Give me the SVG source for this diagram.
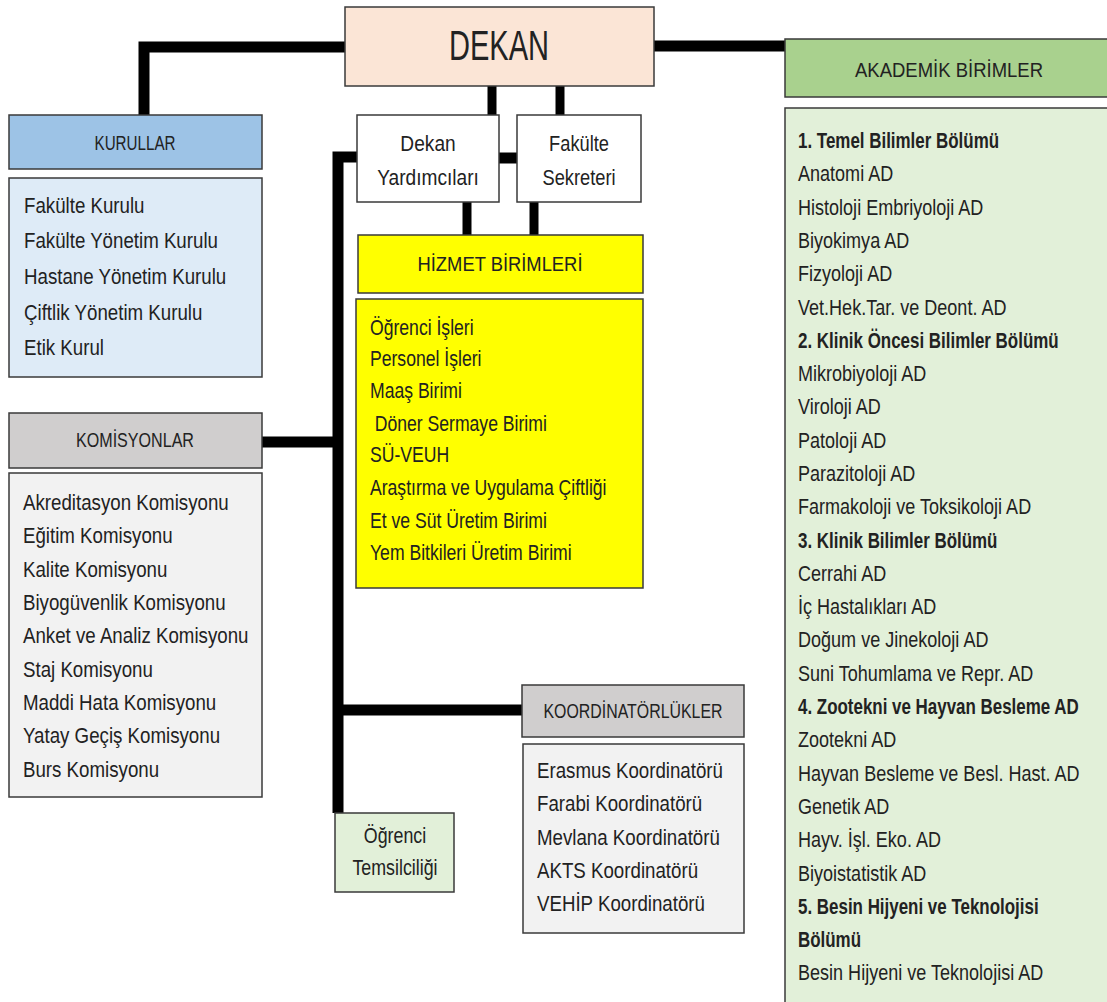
<svg xmlns="http://www.w3.org/2000/svg" width="1107" height="1002" viewBox="0 0 1107 1002">
<style>
.box{stroke:#3a3a3a;stroke-width:1.5}
.conn{stroke:#000;fill:none;stroke-width:11;stroke-linejoin:miter;stroke-linecap:butt}
.thin{stroke-width:9}
text{font-family:"Liberation Sans",Arial,sans-serif;fill:#222}
.hd{font-size:21px;text-anchor:middle}
.li{font-size:22px}
.bd{font-size:22px;font-weight:bold}
.ct{font-size:22px;text-anchor:middle}
</style>
<rect width="1107" height="1002" fill="#fff"/>

<g id="connectors">
  <path class="conn" d="M345,47 H144 V115"/>
  <path class="conn" d="M654,46 H785"/>
  <path class="conn thin" d="M492,86 V115"/>
  <path class="conn thin" d="M560,86 V115"/>
  <path class="conn" d="M499,158 H517"/>
  <path class="conn" d="M357,157 H338 V813"/>
  <path class="conn" d="M262,442 H338"/>
  <path class="conn" d="M338,710 H522"/>
  <path class="conn thin" d="M467,202 V235"/>
  <path class="conn thin" d="M534,202 V235"/>
</g>

<g id="dekan">
  <rect class="box" x="345" y="7" width="309" height="79" fill="#FBE5D6"/>
  <text x="499" y="60" font-size="42" text-anchor="middle" textLength="100" lengthAdjust="spacingAndGlyphs">DEKAN</text>
</g>

<g id="kurullar">
  <rect class="box" x="9" y="115" width="253" height="54" fill="#9DC3E6"/>
  <text class="hd" x="135" y="150" textLength="81" lengthAdjust="spacingAndGlyphs">KURULLAR</text>
  <rect class="box" x="9" y="178" width="253" height="199" fill="#DEEBF7"/>
  <g transform="translate(24,0) scale(0.85,1)">
    <text class="li" x="0" y="213">Fakülte Kurulu</text>
    <text class="li" x="0" y="248">Fakülte Yönetim Kurulu</text>
    <text class="li" x="0" y="284">Hastane Yönetim Kurulu</text>
    <text class="li" x="0" y="320">Çiftlik Yönetim Kurulu</text>
    <text class="li" x="0" y="355">Etik Kurul</text>
  </g>
</g>

<g id="komisyonlar">
  <rect class="box" x="9" y="413" width="253" height="55" fill="#D0CECE"/>
  <text class="hd" x="135" y="447" textLength="118" lengthAdjust="spacingAndGlyphs">KOMİSYONLAR</text>
  <rect class="box" x="9" y="473" width="253" height="324" fill="#F2F2F2"/>
  <g transform="translate(23,0) scale(0.85,1)">
    <text class="li" x="0" y="510">Akreditasyon Komisyonu</text>
    <text class="li" x="0" y="543">Eğitim Komisyonu</text>
    <text class="li" x="0" y="577">Kalite Komisyonu</text>
    <text class="li" x="0" y="610">Biyogüvenlik Komisyonu</text>
    <text class="li" x="0" y="643">Anket  ve Analiz Komisyonu</text>
    <text class="li" x="0" y="677">Staj Komisyonu</text>
    <text class="li" x="0" y="710">Maddi Hata Komisyonu</text>
    <text class="li" x="0" y="743">Yatay Geçiş Komisyonu</text>
    <text class="li" x="0" y="777">Burs Komisyonu</text>
  </g>
</g>

<g id="dekan-yardimcilari">
  <rect class="box" x="357" y="115" width="142" height="87" fill="#fff"/>
  <g transform="translate(428,0) scale(0.87,1)">
    <text class="ct" x="0" y="151">Dekan</text>
    <text class="ct" x="0" y="185">Yardımcıları</text>
  </g>
</g>

<g id="fakulte-sekreteri">
  <rect class="box" x="517" y="115" width="124" height="87" fill="#fff"/>
  <g transform="translate(579,0) scale(0.83,1)">
    <text class="ct" x="0" y="151">Fakülte</text>
    <text class="ct" x="0" y="185">Sekreteri</text>
  </g>
</g>

<g id="hizmet-birimleri">
  <rect class="box" x="358" y="235" width="285" height="58" fill="#FFFF00"/>
  <text class="hd" x="500" y="271" textLength="165" lengthAdjust="spacingAndGlyphs">HİZMET BİRİMLERİ</text>
  <rect class="box" x="356" y="299" width="287" height="289" fill="#FFFF00"/>
  <g transform="translate(370,0) scale(0.8,1)">
    <text class="li" x="0" y="335">Öğrenci İşleri</text>
    <text class="li" x="0" y="366">Personel İşleri</text>
    <text class="li" x="0" y="398">Maaş Birimi</text>
    <text class="li" x="6" y="431">Döner Sermaye Birimi</text>
    <text class="li" x="0" y="462">SÜ-VEUH</text>
    <text class="li" x="0" y="495">Araştırma ve Uygulama Çiftliği</text>
    <text class="li" x="0" y="528">Et ve Süt Üretim Birimi</text>
    <text class="li" x="0" y="560">Yem Bitkileri Üretim Birimi</text>
  </g>
</g>

<g id="koordinatorlukler">
  <rect class="box" x="522" y="685" width="222" height="52" fill="#D0CECE"/>
  <text class="hd" x="633" y="718" textLength="179" lengthAdjust="spacingAndGlyphs">KOORDİNATÖRLÜKLER</text>
  <rect class="box" x="523" y="744" width="221" height="189" fill="#F2F2F2"/>
  <g transform="translate(537,0) scale(0.85,1)">
    <text class="li" x="0" y="778">Erasmus Koordinatörü</text>
    <text class="li" x="0" y="811">Farabi Koordinatörü</text>
    <text class="li" x="0" y="845">Mevlana Koordinatörü</text>
    <text class="li" x="0" y="878">AKTS  Koordinatörü</text>
    <text class="li" x="0" y="911">VEHİP Koordinatörü</text>
  </g>
</g>

<g id="ogrenci-temsilciligi">
  <rect class="box" x="335" y="813" width="119" height="79" fill="#E2F0D9"/>
  <g transform="translate(395,0) scale(0.81,1)">
    <text class="ct" x="0" y="843">Öğrenci</text>
    <text class="ct" x="0" y="875">Temsilciliği</text>
  </g>
</g>

<g id="akademik-birimler">
  <rect class="box" x="785" y="39" width="330" height="58" fill="#A9D18E"/>
  <text class="hd" x="949" y="77" font-size="22" textLength="188" lengthAdjust="spacingAndGlyphs">AKADEMİK BİRİMLER</text>
  <rect class="box" x="785" y="108" width="330" height="900" fill="#E2F0D9"/>
  <g transform="translate(798,0) scale(0.77,1)">
    <text class="bd" x="0" y="148">1. Temel Bilimler Bölümü</text>
    <text class="bd" x="0" y="348">2. Klinik Öncesi Bilimler Bölümü</text>
    <text class="bd" x="0" y="548">3. Klinik Bilimler Bölümü</text>
    <text class="bd" x="0" y="714">4. Zootekni ve Hayvan Besleme AD</text>
    <text class="bd" x="0" y="914">5. Besin Hijyeni ve Teknolojisi</text>
    <text class="bd" x="0" y="947">Bölümü</text>
  </g>
  <g transform="translate(798,0) scale(0.82,1)">
    <text class="li" x="0" y="181">Anatomi AD</text>
    <text class="li" x="0" y="215">Histoloji Embriyoloji AD</text>
    <text class="li" x="0" y="248">Biyokimya AD</text>
    <text class="li" x="0" y="281">Fizyoloji AD</text>
    <text class="li" x="0" y="315">Vet.Hek.Tar.  ve Deont. AD</text>
    <text class="li" x="0" y="381">Mikrobiyoloji AD</text>
    <text class="li" x="0" y="414">Viroloji AD</text>
    <text class="li" x="0" y="448">Patoloji AD</text>
    <text class="li" x="0" y="481">Parazitoloji AD</text>
    <text class="li" x="0" y="514">Farmakoloji ve Toksikoloji AD</text>
    <text class="li" x="0" y="581">Cerrahi AD</text>
    <text class="li" x="0" y="614">İç Hastalıkları AD</text>
    <text class="li" x="0" y="647">Doğum ve Jinekoloji AD</text>
    <text class="li" x="0" y="681">Suni Tohumlama ve Repr. AD</text>
    <text class="li" x="0" y="747">Zootekni AD</text>
    <text class="li" x="0" y="781">Hayvan Besleme ve Besl. Hast. AD</text>
    <text class="li" x="0" y="814">Genetik AD</text>
    <text class="li" x="0" y="847">Hayv. İşl. Eko. AD</text>
    <text class="li" x="0" y="881">Biyoistatistik AD</text>
    <text class="li" x="0" y="980">Besin Hijyeni ve Teknolojisi AD</text>
  </g>
</g>
</svg>
